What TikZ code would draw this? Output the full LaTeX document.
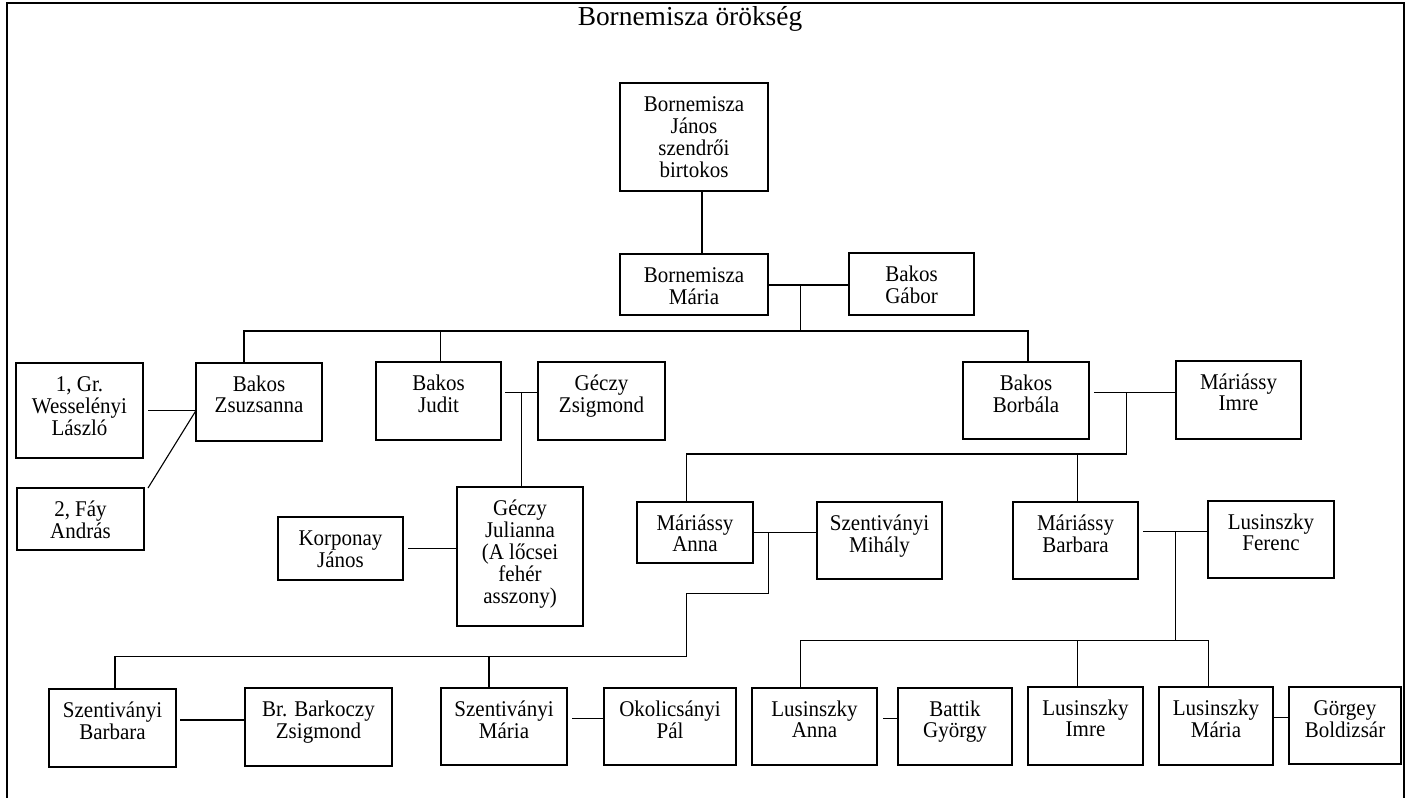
\documentclass[tikz,border=0pt]{standalone}
\usepackage{fontspec}
\usepackage{graphicx}
\setmainfont{Liberation Serif}

% family box: name, left, top, right, bottom, text (text hangs from the top edge)
\newcommand\famBox[7][]{%
  \pgfmathsetmacro\fbW{#5-#3}%
  \pgfmathsetmacro\fbH{#6-#4}%
  \node[fbox, #1, minimum width=\fbW pt, minimum height=\fbH pt] (#2) at ({(#3+#5)/2},{(#4+#6)/2}) {};
  \node[ftext] (#2-txt) at ({(#3+#5)/2},{#4+6.6}) {%
    \scalebox{1}[1.07]{\begin{tabular}{@{}c@{}}\rule{0pt}{20pt}#7\end{tabular}}};
}

\begin{document}
\begin{tikzpicture}[x=1pt, y=-1pt,
  fbox/.style={draw, line width=1.4pt, inner sep=0pt, outer sep=0pt},
  ftext/.style={anchor=north, inner sep=0pt,
                font=\fontsize{21}{20.3}\selectfont},
  link/.style={line width=1.1pt},
  frameline/.style={line width=2.2pt}]

\useasboundingbox (0,0) rectangle (1409,798);

% outer frame (open at the bottom)
\draw[frameline] (7,798) -- (7,3) -- (1404,3) -- (1404,798);

% title
\node[anchor=base, inner sep=0pt, font=\fontsize{27.4}{30}\selectfont] (title) at (690,25) {Bornemisza örökség};

% generation 1-2
\famBox{janos}{620}{83}{768}{191}{Bornemisza\\János\\szendrői\\birtokos}
\famBox{maria}{620}{254}{768}{315}{Bornemisza\\Mária}
\famBox{gabor}{849}{253}{974}{315}{Bakos\\Gábor}

% generation 3
\famBox{wes}{16}{363}{143}{458}{1, Gr.\\Wesselényi\\László}
\famBox{fay}{17}{488}{144}{550}{2, Fáy\\András}
\famBox{zsu}{196}{363}{322}{441}{Bakos\\Zsuzsanna}
\famBox{judit}{376}{362}{501}{440}{Bakos\\Judit}
\famBox{gzs}{538}{362}{665}{440}{Géczy\\Zsigmond}
\famBox{borb}{963}{362}{1089}{439}{Bakos\\Borbála}
\famBox{mimre}{1176}{361}{1301}{439}{Máriássy\\Imre}

% generation 4
\famBox{jul}{457}{487}{583}{626}{Géczy\\Julianna\\(A lőcsei\\fehér\\asszony)}
\famBox{kor}{278}{517}{403}{580}{Korponay\\János}
\famBox{manna}{637}{502}{753}{563}{Máriássy\\Anna}
\famBox{mihaly}{817}{502}{942}{579}{Szentiványi\\Mihály}
\famBox{mbarb}{1013}{502}{1138}{579}{Máriássy\\Barbara}
\famBox{ferenc}{1208}{501}{1334}{578}{Lusinszky\\Ferenc}

% generation 5
\famBox{szbarb}{49}{689}{176}{767}{Szentiványi\\Barbara}
\famBox{bark}{245}{688}{392}{766}{Br. Barkoczy\\Zsigmond}
\famBox{szmaria}{441}{688}{567}{765}{Szentiványi\\Mária}
\famBox{okol}{604}{688}{736}{765}{Okolicsányi\\Pál}
\famBox{lanna}{752}{688}{877}{765}{Lusinszky\\Anna}
\famBox{battik}{898}{688}{1012}{765}{Battik\\György}
\famBox{limre}{1028}{687}{1143}{765}{Lusinszky\\Imre}
\famBox{lmaria}{1159}{687}{1273}{765}{Lusinszky\\Mária}
\famBox[line width=1.9pt]{gorgey}{1289}{687}{1401}{764}{Görgey\\Boldizsár}

% junction points
\coordinate (jd)  at (702,0);
\coordinate (mg)  at (800.7,285);
\coordinate (k1)  at (800.7,331);
\coordinate (k1a) at (244,331);
\coordinate (k1b) at (440.7,331);
\coordinate (k1c) at (1028,331);
\coordinate (jg)  at (521.7,392.7);
\coordinate (bi)  at (1126.7,392.3);
\coordinate (bk)  at (1126.7,454);
\coordinate (bka) at (686.7,454);
\coordinate (bkb) at (1077.7,454);
\coordinate (am)  at (768.3,532.3);
\coordinate (am2) at (768.3,593.3);
\coordinate (am3) at (686.7,593.3);
\coordinate (am4) at (686.7,656.7);
\coordinate (am5) at (115,656.7);
\coordinate (am6) at (489,656.7);
\coordinate (bf)  at (1175.7,531.7);
\coordinate (bf2) at (1175.7,640.7);
\coordinate (bfa) at (800.7,640.7);
\coordinate (bfb) at (1077.7,640.7);
\coordinate (bfc) at (1208.3,640.7);
\coordinate (yb1) at (0,720);
\coordinate (yb2) at (0,718.3);
\coordinate (yb3) at (0,717.3);

% Bornemisza János -> Mária, Mária + Gábor -> children
\draw[link] (jd |- janos.south) -- (jd |- maria.north);
\draw[link] (maria.east |- mg) -- (gabor.west |- mg);
\draw[link] (mg) -- (k1);
\draw[link] (k1a |- zsu.north) -- (k1a) -- (k1c) -- (k1c |- borb.north);
\draw[link] (k1b) -- (k1b |- judit.north);

% Zsuzsanna's husbands
\draw[link] ([xshift=5pt]wes.east) -- (wes.east -| zsu.west);
\draw[link] ([xshift=4pt]fay.north east) -- (wes.east -| zsu.west);

% Judit + Géczy Zsigmond -> Julianna, and Korponay
\draw[link] ([xshift=4pt]judit.east |- jg) -- (gzs.west |- jg);
\draw[link] (jg) -- (jg |- jul.north);
\draw[link] ([xshift=5pt]kor.east) -- (kor.east -| jul.west);

% Borbála + Máriássy Imre -> children
\draw[link] ([xshift=5pt]borb.east |- bi) -- (mimre.west |- bi);
\draw[link] (bi) -- (bk);
\draw[link] (bka |- manna.north) -- (bka) -- (bk);
\draw[link] (bkb) -- (bkb |- mbarb.north);

% Máriássy Anna + Szentiványi Mihály -> children
\draw[link] (manna.east |- am) -- (mihaly.west |- am);
\draw[link] (am) -- (am2) -- (am3) -- (am4) -- (am5) -- (am5 |- szbarb.north);
\draw[link] (am6) -- (am6 |- szmaria.north);

% Máriássy Barbara + Lusinszky Ferenc -> children
\draw[link] ([xshift=5pt]mbarb.east |- bf) -- (ferenc.west |- bf);
\draw[link] (bf) -- (bf2);
\draw[link] (bfa |- lanna.north) -- (bfa) -- (bfc) -- (bfc |- lmaria.north);
\draw[link] (bfb) -- (bfb |- limre.north);

% bottom row marriages
\draw[link] ([xshift=4pt]szbarb.east |- yb1) -- (bark.west |- yb1);
\draw[link] ([xshift=5pt]szmaria.east |- yb2) -- (okol.west |- yb2);
\draw[link] ([xshift=6pt]lanna.east |- yb2) -- (battik.west |- yb2);
\draw[link] (lmaria.east |- yb3) -- (gorgey.west |- yb3);

\end{tikzpicture}
\end{document}
